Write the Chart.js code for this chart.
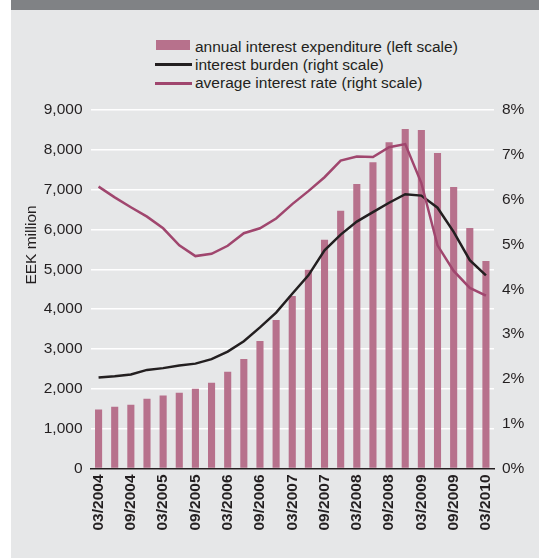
<!DOCTYPE html>
<html><head><meta charset="utf-8">
<script src="https://cdn.jsdelivr.net/npm/chart.js@4/dist/chart.umd.min.js"></script>
<style>
html,body{margin:0;padding:0;background:#fff;}
#wrap{position:relative;width:539px;height:558px;overflow:hidden;}
#panel{position:absolute;left:11px;top:0;width:528px;height:558px;background:#e6e7e8;}
#band{position:absolute;left:11px;top:0;width:528px;height:10px;background:#808285;}
canvas{position:absolute;left:0;top:0;}
.lg{position:absolute;left:195px;font:15.5px "Liberation Sans",Arial,sans-serif;color:#231f20;line-height:18px;white-space:nowrap;}
.sw{position:absolute;}
</style></head>
<body>
<div id="wrap">
<div id="panel"></div>
<div id="band"></div>
<div class="sw" style="left:156px;top:40px;width:34px;height:10px;background:#b7718c"></div>
<div class="lg" style="top:38px">annual interest expenditure (left scale)</div>
<div class="sw" style="left:155px;top:63px;width:37px;height:2.5px;background:#231f20"></div>
<div class="lg" style="top:56px">interest burden (right scale)</div>
<div class="sw" style="left:155px;top:82px;width:37px;height:2.5px;background:#a0466e"></div>
<div class="lg" style="top:73.5px">average interest rate (right scale)</div>
<canvas id="c" width="539" height="558"></canvas>
</div>
<script>
const quarters = ['03/2004','06/2004','09/2004','12/2004','03/2005','06/2005','09/2005','12/2005',
  '03/2006','06/2006','09/2006','12/2006','03/2007','06/2007','09/2007','12/2007',
  '03/2008','06/2008','09/2008','12/2008','03/2009','06/2009','09/2009','12/2009','03/2010'];
const expenditure = [1480,1550,1600,1750,1830,1900,2000,2150,2430,2750,3200,3730,4330,4990,5740,6470,7140,7690,8190,8520,8500,7920,7070,6040,5210];
const burden = [2.03,2.06,2.10,2.20,2.24,2.30,2.34,2.44,2.61,2.84,3.15,3.48,3.90,4.31,4.87,5.22,5.51,5.72,5.93,6.12,6.09,5.82,5.28,4.65,4.31];
const rate = [6.29,6.05,5.83,5.62,5.36,4.98,4.74,4.79,4.97,5.25,5.36,5.58,5.90,6.19,6.50,6.87,6.96,6.95,7.17,7.24,6.37,4.98,4.41,4.03,3.86];
const seriesNames = ['annual interest expenditure (left scale)','interest burden (right scale)','average interest rate (right scale)'];
const yTitle = 'EEK million';

Chart.defaults.font.family = '"Liberation Sans", Arial, sans-serif';
Chart.defaults.font.size = 15.5;
Chart.defaults.color = '#231f20';

const titlePlugin = {
  id: 'ytitle',
  afterDraw(chart) {
    const c = chart.ctx;
    c.save();
    c.translate(31.5, 245);
    c.rotate(-Math.PI / 2);
    c.font = '15.5px "Liberation Sans", Arial, sans-serif';
    c.fillStyle = '#231f20';
    c.textAlign = 'center';
    c.textBaseline = 'middle';
    c.fillText(yTitle, 0, 0);
    c.restore();
  }
};

new Chart(document.getElementById('c'), {
  data: {
    labels: quarters,
    datasets: [
      {type:'line', label: seriesNames[2], data: rate, yAxisID:'y1', borderColor:'#a0466e', borderWidth:2.5, pointRadius:0, tension:0, order:0},
      {type:'line', label: seriesNames[1], data: burden, yAxisID:'y1', borderColor:'#231f20', borderWidth:2.5, pointRadius:0, tension:0, order:1},
      {type:'bar', label: seriesNames[0], data: expenditure, yAxisID:'y', backgroundColor:'#b7718c', barPercentage:0.44, categoryPercentage:1, order:2}
    ]
  },
  options: {
    responsive:false, animation:false,
    layout:{padding:{top:110,left:0,right:0,bottom:0}},
    plugins:{legend:{display:false}, tooltip:{enabled:false}},
    scales:{
      x:{
        offset:true,
        grid:{display:false, drawTicks:false},
        border:{display:true, color:'#231f20', width:1.5},
        ticks:{autoSkip:false, maxRotation:90, minRotation:90, padding:6,
          font:{weight:'bold', size:15.5},
          callback:function(v,i){ return i%2===0 ? quarters[i] : ''; }},
        afterFit:function(s){ s.height = 89.5; }
      },
      y:{
        position:'left', min:0, max:9000,
        ticks:{stepSize:1000, padding:8, callback:function(v){ return v.toLocaleString('en-US'); }},
        grid:{color:'#ffffff', lineWidth:1.5, drawTicks:false},
        border:{display:false},
        afterFit:function(s){ s.width = 90.5; }
      },
      y1:{
        position:'right', min:0, max:8,
        ticks:{stepSize:1, padding:8, callback:function(v){ return v + '%'; }},
        grid:{display:false, drawTicks:false},
        border:{display:false},
        afterFit:function(s){ s.width = 45; }
      }
    }
  },
  plugins:[titlePlugin]
});
</script>
</body></html>
